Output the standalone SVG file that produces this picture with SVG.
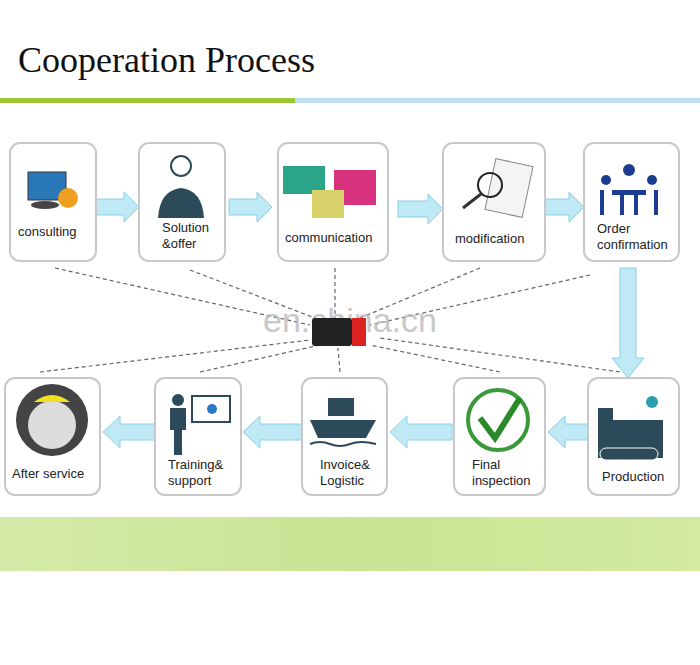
<svg xmlns="http://www.w3.org/2000/svg" width="700" height="665" viewBox="0 0 700 665">
<defs>
<style>
.box{fill:#fff;stroke:#c8c8c8;stroke-width:2}
.lbl{font-family:"Liberation Sans",Arial,sans-serif;font-size:13px;fill:#222}
.arr{fill:#bfe9f5;stroke:#8ccfe6;stroke-width:1}
.dash{stroke:#666;stroke-width:1.2;stroke-dasharray:4 3;fill:none}
.ic{fill:#2d4a5a}
</style>
<linearGradient id="band" x1="0" x2="1"><stop offset="0" stop-color="#d5eaa8"/><stop offset="0.5" stop-color="#c9e494"/><stop offset="1" stop-color="#d3ea9f"/></linearGradient>
</defs>
<rect width="700" height="665" fill="#fff"/>
<text x="18" y="72" font-family="Liberation Serif,serif" font-size="36" fill="#111">Cooperation Process</text>
<rect x="0" y="98" width="295" height="5" fill="#9cc731"/>
<rect x="295" y="98" width="405" height="5" fill="#bfe0f2"/>
<rect x="0" y="517" width="700" height="54" fill="url(#band)"/>
<g id="connectors">
<path class="dash" d="M55 268 L310 325 M190 270 L320 320 M335 268 L335 318 M480 268 L360 318 M590 275 L370 325 M40 372 L310 340 M200 372 L320 345 M340 372 L338 348 M500 372 L370 345 M620 372 L380 338"/>
<path class="arr" d="M96 199 H124 V192 L139 207 L124 222 V215 H96 Z"/>
<path class="arr" d="M229 199 H257 V192 L272 207 L257 222 V215 H229 Z"/>
<path class="arr" d="M398 201 H428 V194 L443 209 L428 224 V217 H398 Z"/>
<path class="arr" d="M545 199 H569 V192 L584 207 L569 222 V215 H545 Z"/>
<path class="arr" d="M620 268 V358 H612 L628 378 L644 358 H636 V268 Z"/>
<path class="arr" d="M155 424 H120 V416 L103 432 L120 448 V440 H155 Z"/>
<path class="arr" d="M302 424 H260 V416 L243 432 L260 448 V440 H302 Z"/>
<path class="arr" d="M452 424 H407 V416 L390 432 L407 448 V440 H452 Z"/>
<path class="arr" d="M588 424 H565 V416 L548 432 L565 448 V440 H588 Z"/>
</g>
<g id="watermark">
<text x="350" y="332" text-anchor="middle" font-family="Liberation Sans,Arial,sans-serif" font-size="34" fill="#bbb" opacity="0.8">en.china.cn</text>
<rect x="312" y="318" width="40" height="28" rx="3" fill="#222"/><rect x="352" y="318" width="14" height="28" fill="#d22"/>
</g>
<g id="n1"><rect class="box" x="10" y="143" width="86" height="118" rx="10"/>
<rect x="28" y="172" width="38" height="28" fill="#2a78b8" stroke="#333"/><ellipse cx="45" cy="205" rx="14" ry="4" fill="#444"/><circle cx="68" cy="198" r="10" fill="#f0a020"/>
<text class="lbl" x="18" y="236">consulting</text></g>
<g id="n2"><rect class="box" x="139" y="143" width="86" height="118" rx="10"/>
<circle cx="181" cy="166" r="10" fill="#fff" stroke="#2d4a5a" stroke-width="2"/><path class="ic" d="M158 218 Q160 190 181 188 Q202 190 204 218 Z"/>
<text class="lbl" x="162" y="232">Solution</text><text class="lbl" x="162" y="248">&amp;offer</text></g>
<g id="n3"><rect class="box" x="278" y="143" width="110" height="118" rx="10"/>
<rect x="283" y="166" width="42" height="28" fill="#2aa58a"/><rect x="334" y="170" width="42" height="35" fill="#d8327f"/><rect x="312" y="190" width="32" height="28" fill="#d9d26a"/>
<text class="lbl" x="285" y="242">communication</text></g>
<g id="n4"><rect class="box" x="443" y="143" width="102" height="118" rx="10"/>
<rect x="490" y="162" width="38" height="52" fill="#f4f4f4" stroke="#888" transform="rotate(12 509 188)"/><circle cx="490" cy="185" r="12" fill="none" stroke="#222" stroke-width="2"/><line x1="481" y1="194" x2="463" y2="208" stroke="#333" stroke-width="3"/>
<text class="lbl" x="455" y="243">modification</text></g>
<g id="n5"><rect class="box" x="584" y="143" width="95" height="118" rx="10"/>
<circle cx="629" cy="170" r="6" fill="#1c3d8f"/><circle cx="606" cy="180" r="5" fill="#1c3d8f"/><circle cx="652" cy="180" r="5" fill="#1c3d8f"/><rect x="612" y="190" width="34" height="5" fill="#1c3d8f"/><path d="M602 190 V215 M656 190 V215 M622 195 V215 M636 195 V215" stroke="#1c3d8f" stroke-width="4"/>
<text class="lbl" x="597" y="233">Order</text><text class="lbl" x="597" y="249">confirmation</text></g>
<g id="n6"><rect class="box" x="588" y="378" width="91" height="117" rx="10"/>
<rect class="ic" x="598" y="408" width="15" height="50"/><rect class="ic" x="613" y="420" width="50" height="38"/><rect x="600" y="448" width="58" height="12" rx="6" fill="#2d4a5a" stroke="#fff"/><circle cx="652" cy="402" r="6" fill="#2a9fb0"/>
<text class="lbl" x="602" y="481">Production</text></g>
<g id="n7"><rect class="box" x="454" y="378" width="91" height="117" rx="10"/>
<circle cx="498" cy="420" r="30" fill="none" stroke="#3a9a3a" stroke-width="4"/><path d="M480 418 L495 438 L520 398" fill="none" stroke="#2a8a2a" stroke-width="6"/>
<text class="lbl" x="472" y="469">Final</text><text class="lbl" x="472" y="485">inspection</text></g>
<g id="n8"><rect class="box" x="302" y="378" width="85" height="117" rx="10"/>
<rect class="ic" x="328" y="398" width="26" height="18"/><path class="ic" d="M310 420 H376 L366 438 H318 Z"/><path d="M310 444 Q320 440 330 444 T350 444 T376 444" stroke="#2d4a5a" stroke-width="2" fill="none"/>
<text class="lbl" x="320" y="469">Invoice&amp;</text><text class="lbl" x="320" y="485">Logistic</text></g>
<g id="n9"><rect class="box" x="155" y="378" width="86" height="117" rx="10"/>
<circle cx="178" cy="400" r="6" class="ic"/><path class="ic" d="M170 408 H186 V430 H182 V455 H174 V430 H170 Z"/><rect x="192" y="396" width="38" height="26" fill="#fff" stroke="#2d4a5a" stroke-width="2"/><circle cx="212" cy="409" r="5" fill="#2a78c8"/>
<text class="lbl" x="168" y="469">Training&amp;</text><text class="lbl" x="168" y="485">support</text></g>
<g id="n10"><rect class="box" x="5" y="378" width="95" height="117" rx="10"/>
<circle cx="52" cy="420" r="36" fill="#444"/><circle cx="52" cy="425" r="24" fill="#ddd"/><path d="M34 402 Q52 388 70 402 Z" fill="#f2e020"/>
<text class="lbl" x="12" y="478">After service</text></g>
</svg>
